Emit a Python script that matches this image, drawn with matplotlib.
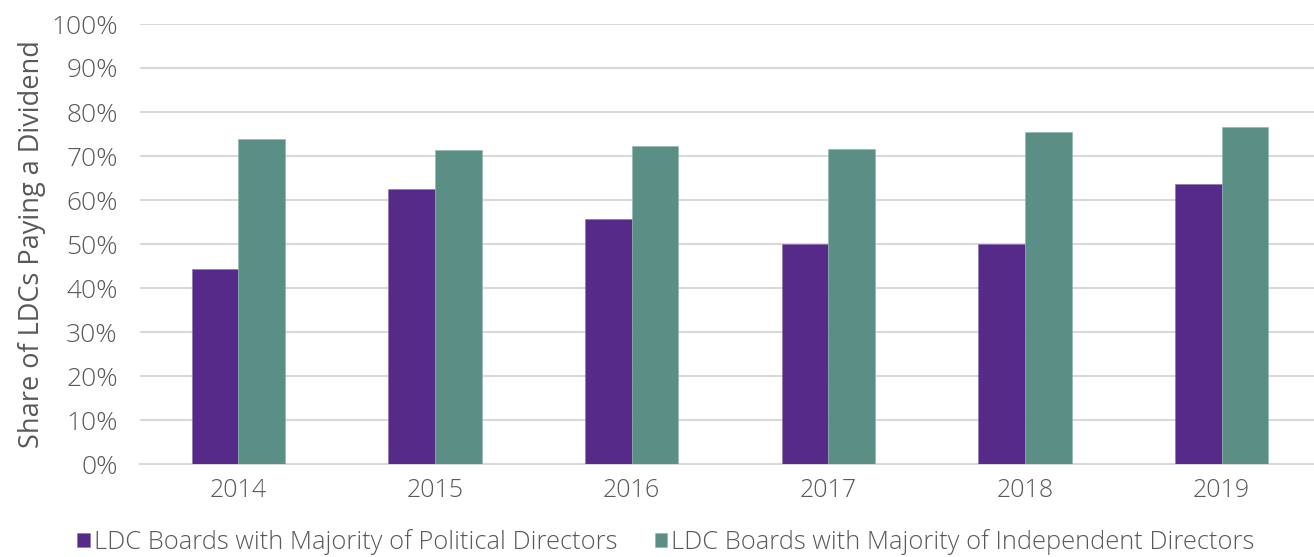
import matplotlib.pyplot as plt
import numpy as np

# Data
years = ["2014", "2015", "2016", "2017", "2018", "2019"]
political = [44.4, 62.4, 55.6, 50.0, 50.0, 63.6]
independent = [73.9, 71.4, 72.2, 71.7, 75.5, 76.7]
yticks = [0, 10, 20, 30, 40, 50, 60, 70, 80, 90, 100]

purple = "#562A89"
teal = "#5B8F86"
grey_txt = "#595959"
grid_col = "#D9D9D9"

plt.rcParams['font.family'] = ['Open Sans', 'DejaVu Sans']
plt.rcParams['font.weight'] = 'light'

fig = plt.figure(figsize=(13.14, 5.57), dpi=100)
ax = fig.add_axes([140 / 1314, 93 / 557, 1180 / 1314, 440 / 557])

x = np.arange(len(years))
w = 0.2375
ax.bar(x - w / 2, political, w, color=purple, edgecolor="#8a6fb0", linewidth=0.4,
       label="LDC Boards with Majority of Political Directors", zorder=3)
ax.bar(x + w / 2, independent, w, color=teal, edgecolor="#8fb5ae", linewidth=0.4,
       label="LDC Boards with Majority of Independent Directors", zorder=3)

ax.set_xlim(-0.5, len(years) - 0.5)
ax.set_ylim(0, 100)
ax.set_yticks(yticks)
ax.set_yticklabels([f"{t}%" for t in yticks])
ax.set_xticks(x)
ax.set_xticklabels(years)
ax.tick_params(axis='both', length=0, labelsize=18, colors=grey_txt)
ax.tick_params(axis='y', labelsize=19, pad=16)
ax.tick_params(axis='x', pad=10)
ax.yaxis.grid(True, color=grid_col, linewidth=1.5, zorder=0)
for s in ["top", "right", "left"]:
    ax.spines[s].set_visible(False)
ax.spines["bottom"].set_color(grid_col)
ax.spines["bottom"].set_linewidth(1.5)

ax.set_ylabel("Share of LDCs Paying a Dividend", fontsize=19.5, color=grey_txt, labelpad=4)

leg = fig.legend(loc="center", bbox_to_anchor=(666 / 1314, 1 - 542 / 557), ncol=2,
                 frameon=False, fontsize=18.4, handlelength=0.5, handleheight=0.5,
                 handletextpad=0.15, columnspacing=1.45)
for t in leg.get_texts():
    t.set_color(grey_txt)

fig.savefig("out.png", dpi=100)
